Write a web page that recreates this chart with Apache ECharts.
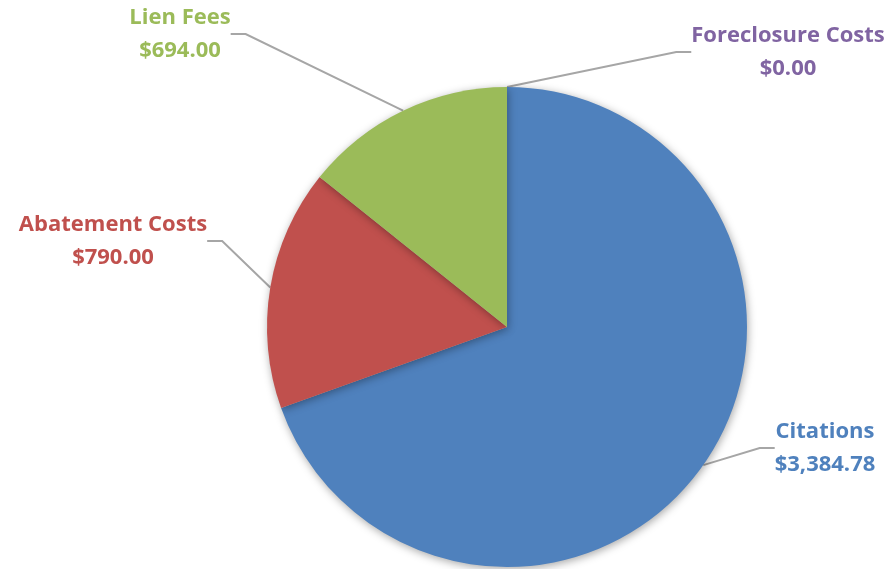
<!DOCTYPE html>
<html>
<head>
<meta charset="utf-8">
<script src="https://cdn.jsdelivr.net/npm/echarts@6/dist/echarts.min.js"></script>
<style>html,body{margin:0;padding:0;background:#fff}#c{width:894px;height:569px}</style>
</head>
<body>
<div id="c"></div>
<script>
const categories = ['Citations', 'Abatement Costs', 'Lien Fees', 'Foreclosure Costs'];
const values = [3384.78, 790.00, 694.00, 0.00];
const colors = ['#4F81BD', '#C0504D', '#9BBB59', '#8064A2'];
const textColors = ['#4F81BD', '#C0504D', '#9BBB59', '#8064A2'];
// label anchor positions (label placement only)
const labelPos = [[825, 448], [113, 241], [180, 34], [788, 52]];

const chart = echarts.init(document.getElementById('c'));
const fmt = v => '$' + v.toLocaleString('en-US', {minimumFractionDigits: 2, maximumFractionDigits: 2});
chart.setOption({
  animation: false,
  series: [{
    type: 'pie',
    center: [507, 327],
    radius: 240,
    startAngle: 90,
    clockwise: true,
    avoidLabelOverlap: false,
    data: categories.map((n, i) => ({
      name: n, value: values[i],
      itemStyle: {color: colors[i]},
      label: {color: textColors[i]}
    })),
    itemStyle: {shadowBlur: 8, shadowColor: 'rgba(0,0,0,0.35)', shadowOffsetX: 1, shadowOffsetY: 2},
    label: {
      show: true,
      position: 'outside',
      formatter: p => p.name + '\n' + fmt(p.value),
      fontFamily: 'Open Sans',
      fontWeight: 'bold',
      fontSize: 22,
      lineHeight: 33,
      align: 'center'
    },
    labelLine: {show: true, lineStyle: {color: '#A6A6A6', width: 2}, length: 20, length2: 15},
    labelLayout: p => ({
      x: labelPos[p.dataIndex][0],
      y: labelPos[p.dataIndex][1],
      align: 'center',
      verticalAlign: 'middle'
    })
  }]
});
</script>
</body>
</html>
